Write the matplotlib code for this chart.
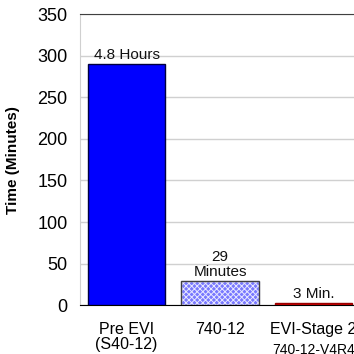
import matplotlib.pyplot as plt
import matplotlib as mpl

categories = ["Pre EVI\n(S40-12)", "740-12", "EVI-Stage 2"]
sub_labels = ["", "", "740-12-V4R4"]
values = [290, 29, 3]
bar_labels = ["4.8 Hours", "29\nMinutes", "3 Min."]
yticks = [0, 50, 100, 150, 200, 250, 300, 350]

mpl.rcParams['font.family'] = ['Liberation Sans', 'DejaVu Sans']
mpl.rcParams['hatch.linewidth'] = 0.7

fig = plt.figure(figsize=(3.54, 3.54), dpi=100)
ax = fig.add_axes([0.226, 0.138, 0.791, 0.822])

x = list(range(len(values)))
colors = ['#0000ff', '#7878ff', '#cc0000']
edges = ['#000040', '#404040', '#990000']
bars = ax.bar(x, values, width=0.83, color=colors, edgecolor=edges, linewidth=1, zorder=3)
bars[1].set_hatch('xxxxxx')
bars[1].set_edgecolor('#e8e8ff')
ax.bar([1], [values[1]], width=0.83, color='none', edgecolor='#404040', linewidth=1, zorder=4)

for xi, v, lab in zip(x, values, bar_labels):
    ax.text(xi, v + 2, lab, ha='center', va='bottom', fontsize=11, color='#111111',
            linespacing=1.1)

ax.set_xlim(-0.5, 2.5)
ax.set_ylim(0, 350)
ax.set_yticks(yticks)
ax.tick_params(axis='y', length=0, labelsize=13, pad=9)
ax.tick_params(axis='x', length=0, labelsize=11.5, pad=12)
ax.set_xticks(x)
ax.set_xticklabels(categories, linespacing=1.0)
for xi, s in zip(x, sub_labels):
    if s:
        ax.text(xi, -0.13, s, transform=ax.get_xaxis_transform(), ha='center', va='top', fontsize=10)

ax.grid(axis='y', color='#d0d0d0', linewidth=1, zorder=0)
ax.spines['top'].set_color('#404040')
ax.spines['right'].set_visible(False)
ax.spines['left'].set_color('#d0d0d0')
ax.spines['bottom'].set_color('#000000')
ax.set_ylabel("Time (Minutes)", fontsize=11, fontweight='bold', labelpad=6)
ax.yaxis.set_label_coords(-0.215, 0.5)

fig.savefig("out.png", dpi=100)
